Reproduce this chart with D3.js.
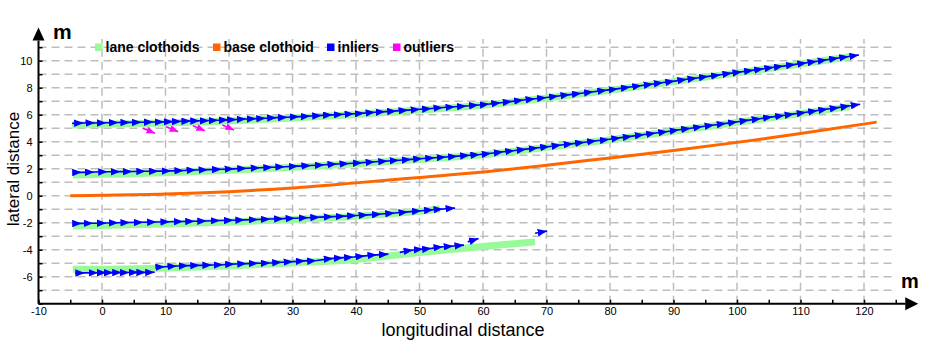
<!DOCTYPE html>
<html lang="en">
<head>
<meta charset="UTF-8" />
<title>Clothoid lane fit</title>
<script src="https://d3js.org/d3.v7.min.js"></script>
<style>
  body { margin: 0; background: #fff; }
  svg { display: block; font-family: "Liberation Sans", Arial, sans-serif; }
</style>
</head>
<body>
<script>
const width = 925;
const height = 340;

// axis ticks and labels
const xTicks = [-10, -5, 0, 5, 10, 15, 20, 25, 30, 35, 40, 45, 50, 55, 60, 65, 70, 75, 80, 85, 90, 95, 100, 105, 110, 115, 120, 125];
const xTickLabels = [-10, 0, 10, 20, 30, 40, 50, 60, 70, 80, 90, 100, 110, 120];
const yTicks = [-8, -7, -6, -5, -4, -3, -2, -1, 0, 1, 2, 3, 4, 5, 6, 7, 8, 9, 10, 11];
const yTickLabels = [-6, -4, -2, 0, 2, 4, 6, 8, 10];
const xGrid = [0, 10, 20, 30, 40, 50, 60, 70, 80, 90, 100, 110, 120];
const yGrid = [-7, -6, -5, -4, -3, -2, -1, 0, 1, 2, 3, 4, 5, 6, 7, 8, 9, 10, 11];

// legend
const legendLabels = ["lane clothoids", "base clothoid", "inliers", "outliers"];
const legendColors = ["#99fa99", "#ff6600", "#0000ff", "#ff00ff"];

// lane clothoids (green)
const lane1CurveX = [-4.7, 0, 10, 20, 30, 40, 50, 60, 70, 80, 90, 100, 110, 117.8];
const lane1CurveY = [5.24, 5.29, 5.39, 5.54, 5.76, 6.02, 6.35, 6.7, 7.24, 7.81, 8.45, 9.1, 9.75, 10.3];
const lane2CurveX = [-4.6, 0, 10, 20, 30, 40, 50, 60, 70, 80, 90, 100, 110, 117.8];
const lane2CurveY = [1.53, 1.58, 1.7, 1.88, 2.1, 2.36, 2.68, 3.03, 3.58, 4.15, 4.78, 5.43, 6.08, 6.6];
const lane3CurveX = [-4.6, 0, 10, 20, 30, 40, 50, 53.2];
const lane3CurveY = [-2.24, -2.2, -2.1, -1.95, -1.76, -1.52, -1.16, -0.98];
const lane4CurveX = [-4.6, 0, 10, 20, 30, 40, 50, 60, 68.2];
const lane4CurveY = [-5.45, -5.45, -5.36, -5.2, -4.98, -4.72, -4.2, -3.76, -3.42];

// base clothoid (orange)
const baseX = [-5, 0, 10, 20, 30, 40, 50, 60, 70, 80, 90, 100, 110, 122];
const baseY = [0, 0.03, 0.12, 0.3, 0.57, 0.95, 1.35, 1.75, 2.25, 2.8, 3.35, 3.95, 4.6, 5.45];

// inliers (blue arrow chains)
const in1X = [-4.7, -2.9, -1.1, 0.7, 2.6, 4.4, 6.2, 8.1, 9.8, 11.2, 12.5, 14.0, 15.4, 16.9, 18.3, 19.9, 21.2, 22.7, 24.3, 25.8, 27.5, 29.2, 31.1, 32.8, 34.6, 36.3, 38.0, 39.7, 41.3, 43.0, 44.6, 46.4, 48.2, 50.1, 51.9, 53.7, 55.6, 57.4, 59.3, 61.0, 62.8, 64.6, 66.4, 68.2, 70.0, 71.9, 73.7, 75.5, 77.4, 79.5, 81.3, 83.2, 85.0, 86.8, 88.4, 90.2, 92.1, 93.7, 95.5, 97.4, 99.2, 100.8, 102.6, 104.2, 105.8, 107.3, 109.2, 111.0, 112.6, 114.2, 116.0, 117.6, 119.2];
const in1Y = [5.36, 5.38, 5.39, 5.40, 5.42, 5.43, 5.44, 5.46, 5.47, 5.49, 5.51, 5.53, 5.55, 5.57, 5.59, 5.62, 5.65, 5.68, 5.71, 5.74, 5.78, 5.81, 5.86, 5.90, 5.95, 5.99, 6.03, 6.07, 6.12, 6.18, 6.23, 6.28, 6.34, 6.40, 6.46, 6.53, 6.59, 6.65, 6.72, 6.79, 6.89, 6.99, 7.09, 7.18, 7.28, 7.39, 7.49, 7.59, 7.70, 7.82, 7.93, 8.05, 8.16, 8.28, 8.38, 8.49, 8.62, 8.72, 8.84, 8.96, 9.08, 9.18, 9.30, 9.40, 9.51, 9.60, 9.73, 9.85, 9.96, 10.07, 10.20, 10.31, 10.42];
const in2X = [-4.6, -3.2, -1.2, 0.9, 2.9, 4.8, 6.9, 8.9, 10.9, 12.9, 14.8, 16.7, 18.8, 20.8, 22.8, 24.9, 26.9, 28.8, 30.9, 32.9, 35.0, 37.0, 38.9, 41.0, 43.0, 45.0, 46.8, 48.7, 50.5, 52.4, 54.2, 56.0, 57.9, 59.5, 61.3, 63.2, 65.0, 66.8, 68.7, 70.5, 72.3, 74.2, 76.0, 77.9, 79.9, 81.7, 83.5, 85.4, 87.2, 89.1, 90.9, 92.7, 94.6, 96.4, 98.3, 100.1, 101.9, 103.8, 105.6, 107.5, 109.0, 110.9, 112.7, 114.3, 116.1, 117.8, 119.4];
const in2Y = [1.72, 1.73, 1.75, 1.77, 1.78, 1.79, 1.81, 1.82, 1.84, 1.87, 1.90, 1.93, 1.96, 1.99, 2.03, 2.07, 2.11, 2.15, 2.19, 2.24, 2.29, 2.35, 2.39, 2.45, 2.51, 2.57, 2.63, 2.69, 2.75, 2.81, 2.87, 2.93, 3.00, 3.05, 3.14, 3.25, 3.35, 3.45, 3.55, 3.65, 3.75, 3.86, 3.96, 4.07, 4.18, 4.30, 4.41, 4.53, 4.64, 4.76, 4.88, 5.00, 5.12, 5.24, 5.36, 5.48, 5.60, 5.72, 5.84, 5.96, 6.06, 6.18, 6.31, 6.42, 6.54, 6.66, 6.78];
const in3X = [-4.5, -3.2, -1.4, 0.7, 2.6, 4.4, 6.5, 8.6, 10.7, 12.8, 14.6, 16.5, 18.6, 20.7, 22.5, 24.6, 26.5, 28.6, 30.4, 32.5, 34.3, 36.4, 38.3, 40.1, 41.9, 44.0, 46.1, 48.2, 50.3, 52.2, 53.7, 55.6];
const in3Y = [-2.06, -2.05, -2.04, -2.02, -2.0, -1.99, -1.97, -1.95, -1.93, -1.91, -1.89, -1.87, -1.84, -1.82, -1.79, -1.76, -1.73, -1.70, -1.67, -1.63, -1.59, -1.55, -1.51, -1.47, -1.42, -1.36, -1.28, -1.2, -1.11, -1.04, -0.98, -0.92];
const in4aX = [-4.25, -2.7, -0.6, 0.7, 1.8, 3.1, 4.3, 5.7, 6.9, 8.3];
const in4aY = [-5.74, -5.72, -5.71, -5.70, -5.70, -5.69, -5.69, -5.68, -5.68, -5.67];
const in4bX = [8.6, 9.9, 11.8, 13.6, 15.4, 17.3, 19.1, 20.9, 22.8, 24.6, 26.5, 28.3, 30.1, 32.0, 33.8, 36.4, 38.0, 39.6, 41.4, 43.3, 45.1];
const in4bY = [-5.3, -5.26, -5.21, -5.18, -5.16, -5.13, -5.11, -5.06, -5.03, -5.00, -4.98, -4.93, -4.88, -4.83, -4.80, -4.64, -4.59, -4.54, -4.46, -4.38, -4.33];
const in4cX = [46.9, 49.0, 50.6, 51.9, 53.7, 55.3, 57.0];
const in4cY = [-4.2, -4.02, -3.95, -3.9, -3.78, -3.73, -3.66];
const in4dX = [57.6, 59.3];
const in4dY = [-3.42, -3.17];
const in4eX = [68.2, 70.1];
const in4eY = [-2.78, -2.62];

// outliers (magenta arrows), start and end
const outX0 = [6.4, 10.1, 14.3, 18.95];
const outY0 = [4.99, 5.11, 5.19, 5.24];
const outX1 = [8.35, 12.0, 16.2, 20.8];
const outY1 = [4.63, 4.74, 4.81, 4.87];

const zip = (xs, ys) => xs.map((v, i) => [v, ys[i]]);

const svg = d3.select("body").append("svg")
  .attr("width", width)
  .attr("height", height);

const x = d3.scaleLinear().domain([-10, 120]).range([38.5, 864]);
const y = d3.scaleLinear().domain([-8, 10]).range([303.7, 60.7]);

// arrow heads
const defs = svg.append("defs");
function addHead(id, color, w, h) {
  defs.append("marker")
    .attr("id", id)
    .attr("viewBox", `0 0 ${w} ${h}`)
    .attr("refX", w)
    .attr("refY", h / 2)
    .attr("markerWidth", w)
    .attr("markerHeight", h)
    .attr("markerUnits", "userSpaceOnUse")
    .attr("orient", "auto")
    .append("path")
    .attr("d", `M0,0L${w},${h / 2}L0,${h}Z`)
    .attr("fill", color);
}
addHead("head-blue", "#0000ff", 9.5, 7.5);
addHead("head-pink", "#ff00ff", 8.5, 7);

// grid
const grid = svg.append("g")
  .attr("stroke", "#bdbdbd")
  .attr("stroke-width", 1.5)
  .attr("stroke-dasharray", "8,5");
grid.selectAll(".hg").data(yGrid).enter().append("line")
  .attr("x1", x(-10)).attr("x2", x(125))
  .attr("y1", (d) => y(d)).attr("y2", (d) => y(d));
grid.selectAll(".vg").data(xGrid).enter().append("line")
  .attr("x1", (d) => x(d)).attr("x2", (d) => x(d))
  .attr("y1", y(-8)).attr("y2", y(11.6));

const line = d3.line()
  .x((d) => x(d[0]))
  .y((d) => y(d[1]));
const smooth = d3.line()
  .x((d) => x(d[0]))
  .y((d) => y(d[1]))
  .curve(d3.curveMonotoneX);

// lane clothoids
const lanes = [
  zip(lane1CurveX, lane1CurveY),
  zip(lane2CurveX, lane2CurveY),
  zip(lane3CurveX, lane3CurveY),
  zip(lane4CurveX, lane4CurveY),
];
svg.append("g").selectAll("path").data(lanes).enter().append("path")
  .attr("d", smooth)
  .attr("fill", "none")
  .attr("stroke", "#99fa99")
  .attr("stroke-width", 7);

// base clothoid
svg.append("path")
  .attr("d", smooth(zip(baseX, baseY)))
  .attr("fill", "none")
  .attr("stroke", "#ff6600")
  .attr("stroke-width", 3);

// inliers
const tracks = [
  zip(in1X, in1Y),
  zip(in2X, in2Y),
  zip(in3X, in3Y),
  zip(in4aX, in4aY),
  zip(in4bX, in4bY),
  zip(in4cX, in4cY),
  zip(in4dX, in4dY),
  zip(in4eX, in4eY),
];
svg.append("g").selectAll("path").data(tracks).enter().append("path")
  .attr("d", line)
  .attr("fill", "none")
  .attr("stroke", "#0000ff")
  .attr("stroke-width", 1.6)
  .attr("marker-mid", "url(#head-blue)")
  .attr("marker-end", "url(#head-blue)");

// outliers
svg.append("g").selectAll("line").data(outX0).enter().append("line")
  .attr("x1", (d) => x(d))
  .attr("y1", (d, i) => y(outY0[i]))
  .attr("x2", (d, i) => x(outX1[i]))
  .attr("y2", (d, i) => y(outY1[i]))
  .attr("stroke", "#ff00ff")
  .attr("stroke-width", 1.6)
  .attr("marker-end", "url(#head-pink)");

// x axis
const xAxis = d3.axisBottom(x)
  .tickValues(xTicks)
  .tickSizeInner(-4)
  .tickSizeOuter(0)
  .tickPadding(4)
  .tickFormat((d) => (xTickLabels.includes(d) ? `${d}` : ""));
const gx = svg.append("g")
  .attr("transform", `translate(0,${y(-8)})`)
  .call(xAxis);
gx.select(".domain").remove();
gx.selectAll(".tick line").attr("stroke", "#000").attr("stroke-width", 1.5);
gx.selectAll(".tick text").attr("font-size", 11).attr("fill", "#000")
  .attr("font-family", "Liberation Sans, Arial, sans-serif");

// y axis
const yAxis = d3.axisLeft(y)
  .tickValues(yTicks)
  .tickSizeInner(-4)
  .tickSizeOuter(0)
  .tickPadding(6)
  .tickFormat((d) => (yTickLabels.includes(d) ? `${d}` : ""));
const gy = svg.append("g")
  .attr("transform", `translate(${x(-10)},0)`)
  .call(yAxis);
gy.select(".domain").remove();
gy.selectAll(".tick line").attr("stroke", "#000").attr("stroke-width", 1.5);
gy.selectAll(".tick text").attr("font-size", 11).attr("fill", "#000")
  .attr("font-family", "Liberation Sans, Arial, sans-serif");

// axis lines with arrow heads
const x0 = x(-10), y0 = y(-8);
const xEnd = x(126.5), yEnd = y(11.5);
svg.append("line")
  .attr("x1", x0).attr("x2", xEnd)
  .attr("y1", y0).attr("y2", y0)
  .attr("stroke", "#000").attr("stroke-width", 2);
svg.append("path")
  .attr("d", `M${xEnd},${y0 - 6.5}L${xEnd + 13},${y0}L${xEnd},${y0 + 6.5}Z`)
  .attr("fill", "#000");
svg.append("line")
  .attr("x1", x0).attr("x2", x0)
  .attr("y1", y0).attr("y2", yEnd)
  .attr("stroke", "#000").attr("stroke-width", 2);
svg.append("path")
  .attr("d", `M${x0 - 6},${yEnd}L${x0},${yEnd - 13}L${x0 + 6},${yEnd}Z`)
  .attr("fill", "#000");

// unit labels
svg.append("text")
  .attr("x", 53).attr("y", 39)
  .attr("font-size", 21).attr("font-weight", "bold")
  .text("m");
svg.append("text")
  .attr("x", 901).attr("y", 288)
  .attr("font-size", 20).attr("font-weight", "bold")
  .text("m");

// axis titles
svg.append("text")
  .attr("transform", `translate(19,169) rotate(-90)`)
  .attr("text-anchor", "middle")
  .attr("font-size", 17)
  .text("lateral distance");
svg.append("text")
  .attr("x", 463).attr("y", 336)
  .attr("text-anchor", "middle")
  .attr("font-size", 18)
  .text("longitudinal distance");

// legend
const legendX = [95, 213, 327, 393];
const legend = svg.append("g");
legendLabels.forEach((label, i) => {
  legend.append("rect")
    .attr("x", legendX[i]).attr("y", 43.5)
    .attr("width", 7.5).attr("height", 7.5)
    .attr("fill", legendColors[i]);
  legend.append("text")
    .attr("x", legendX[i] + 10.5).attr("y", 51.5)
    .attr("font-size", 14).attr("font-weight", "bold")
    .text(label);
});
</script>
</body>
</html>
